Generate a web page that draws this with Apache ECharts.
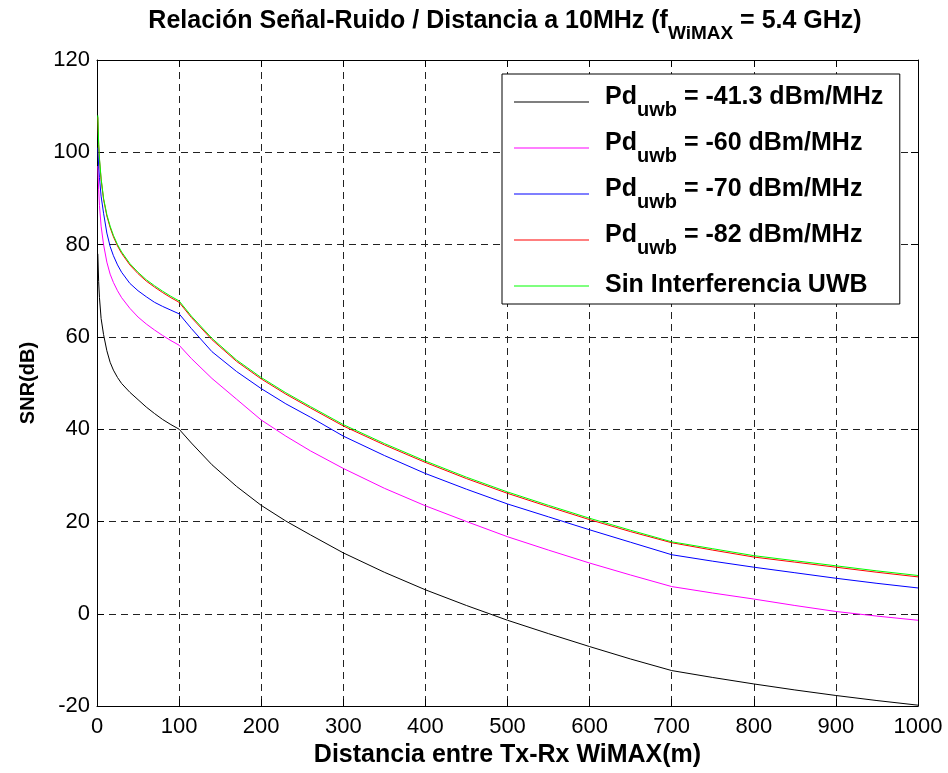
<!DOCTYPE html>
<html>
<head>
<meta charset="utf-8">
<script src="https://cdn.jsdelivr.net/npm/echarts@6/dist/echarts.min.js"></script>
<style>
html,body{margin:0;padding:0;background:#fff;}
#chart{width:948px;height:773px;}
</style>
</head>
<body>
<div id="chart"></div>
<script>
// ---- data ----
const distance = [1,2,3,5,8,12,16,20,25,30,40,50,60,70,80,90,100,115,140,170,200,230,260,300,350,400,450,500,550,600,650,700,750,800,850,900,950,1000];
const snrNeg41 = [78,72,68.5,64,60.5,57,54.5,52.8,51.2,49.9,48,46.4,44.8,43.4,42.1,41,40,37,32.3,27.6,23.5,20.1,17.1,13.2,9,5.2,1.8,-1.4,-4.3,-7.1,-9.8,-12.3,-13.8,-15.2,-16.5,-17.7,-18.8,-19.8];
const snrNeg60 = [97,92,88.5,84,80,76.2,73.6,71.8,70,68.5,66.2,64.3,62.8,61.5,60.3,59.2,58.2,55.3,51,46.5,42,38.5,35.3,31.5,27.2,23.4,20,16.7,13.8,11,8.4,5.9,4.5,3.2,1.8,0.5,-0.5,-1.4];
const snrNeg70 = [101,97,94.5,90.5,86.8,82.5,79.6,77.6,75.6,74,71.6,70,68.7,67.5,66.6,65.8,65,61.8,56.8,52.5,48.8,45.5,42.6,38.5,34.3,30.4,27,23.8,21,18.2,15.5,12.8,11.4,10.1,8.9,7.7,6.6,5.6];
const snrNeg82 = [107.6,101.7,98.4,94.1,89.8,86.2,83.7,81.7,79.7,78.1,75.6,73.7,72.1,70.8,69.6,68.5,67.5,64.2,59.4,54.7,50.9,47.6,44.6,40.7,36.6,32.8,29.3,26.1,23.2,20.4,17.8,15.4,13.8,12.3,11.2,10.1,9,8];
const snrSinUWB = [108,102,98.7,94.4,90,86.5,84,82,80,78.4,75.9,74,72.4,71.1,69.9,68.8,67.8,64.5,59.7,55,51.2,47.9,44.9,41,36.9,33.1,29.6,26.4,23.5,20.7,18.1,15.6,14.1,12.6,11.5,10.4,9.3,8.3];
const seriesNames = ['-41.3 dBm/MHz','-60 dBm/MHz','-70 dBm/MHz','-82 dBm/MHz','Sin Interferencia UWB'];
const seriesColors = ['#000000','#ff00ff','#0000ff','#ff0000','#00ff00'];
const xTicks = {min:0, max:1000, interval:100};
const yTicks = {min:-20, max:120, interval:20};
const titleMain = 'Relación Señal-Ruido / Distancia a 10MHz (f';
const titleSub = 'WiMAX';
const titleEnd = ' = 5.4 GHz)';
const xName = 'Distancia entre Tx-Rx WiMAX(m)';
const yName = 'SNR(dB)';

// ---- chart ----
const FONT = 'Liberation Sans';
const allSeries = [snrNeg41, snrNeg60, snrNeg70, snrNeg82, snrSinUWB];
const chart = echarts.init(document.getElementById('chart'), null, {renderer:'canvas'});

const richStyles = {
  p0: {fontSize:25, fontWeight:'bold', fontFamily:FONT, color:'#000', lineHeight:25, verticalAlign:'top', padding:[0,0,0,11]},
  p:  {fontSize:25, fontWeight:'bold', fontFamily:FONT, color:'#000', lineHeight:25, verticalAlign:'top'},
  s:  {fontSize:20, fontWeight:'bold', fontFamily:FONT, color:'#000', lineHeight:20, verticalAlign:'top', padding:[15,0,0,0]},
  q:  {fontSize:25, fontWeight:'bold', fontFamily:FONT, color:'#000', lineHeight:25, verticalAlign:'top', padding:[4,0,0,11]},
  z:  {fontSize:2, fontFamily:FONT, lineHeight:34, verticalAlign:'top'}
};

function axisCommon(t, showLabel, showSplit, fontSize, margin) {
  return {
    type:'value', min:t.min, max:t.max, interval:t.interval,
    axisLine:{show:true, onZero:false, lineStyle:{color:'#000', width:1}},
    axisTick:{show:true, inside:true, length:7, lineStyle:{color:'#000'}},
    axisLabel:{show:showLabel, color:'#000', fontFamily:FONT, fontSize:fontSize, margin:margin,
               formatter:function(v){ return String(v); }},
    splitLine:{show:showSplit, lineStyle:{color:'#222', type:[7,5], width:1}}
  };
}

const xBottom = Object.assign(axisCommon(xTicks, true, true, 22, 10), {
  position:'bottom', name:xName, nameLocation:'middle', nameGap:25,
  nameTextStyle:{fontFamily:FONT, fontSize:25, fontWeight:'bold', color:'#000'}
});
const xTop = Object.assign(axisCommon(xTicks, false, false, 22, 10), {position:'top'});
const yLeft = Object.assign(axisCommon(yTicks, true, true, 22, 7), {
  position:'left', name:yName, nameLocation:'middle', nameGap:59, nameRotate:90,
  nameTextStyle:{fontFamily:FONT, fontSize:20, fontWeight:'bold', color:'#000'}
});
const yRight = Object.assign(axisCommon(yTicks, false, false, 22, 7), {position:'right'});

const option = {
  animation:false,
  backgroundColor:'#fff',
  title:{
    text:'{p|' + titleMain + '}{t|' + titleSub + '}{p|' + titleEnd + '}',
    left:505, top:9, padding:0, textAlign:'center',
    textStyle:{
      fontFamily:FONT, fontSize:25, fontWeight:'bold', color:'#000',
      rich:{
        p:{fontSize:25, fontWeight:'bold', fontFamily:FONT, color:'#000', lineHeight:25, verticalAlign:'top'},
        t:{fontSize:19, fontWeight:'bold', fontFamily:FONT, color:'#000', lineHeight:19, verticalAlign:'top', padding:[15,0,0,0]}
      }
    }
  },
  grid:{left:97, right:30, top:60, bottom:66, containLabel:false},
  xAxis:[xBottom, xTop],
  yAxis:[yLeft, yRight],
  legend:{
    orient:'vertical', left:502, top:74,
    padding:[11,16,6,12],
    icon:'rect',
    itemWidth:75, itemHeight:1, itemGap:11,
    backgroundColor:'#fff', borderColor:'#000', borderWidth:1,
    data:seriesNames,
    formatter:function(name){
      if (name === seriesNames[4]) return '{q|' + name + '}{z| }';
      return '{p0|Pd}{s|uwb}{p| = ' + name + '}{z| }';
    },
    textStyle:{fontFamily:FONT, fontSize:25, fontWeight:'bold', color:'#000', rich:richStyles}
  },
  series: allSeries.map(function(arr, k){
    return {
      name:seriesNames[k], type:'line', xAxisIndex:0, yAxisIndex:0,
      data: distance.map(function(d,i){ return [d, arr[i]]; }),
      symbol:'none', showSymbol:false, smooth:false,
      lineStyle:{color:seriesColors[k], width:1},
      itemStyle:{color:seriesColors[k]},
      emphasis:{disabled:true}, silent:true, z:2+k
    };
  })
};
chart.setOption(option);
</script>
</body>
</html>
